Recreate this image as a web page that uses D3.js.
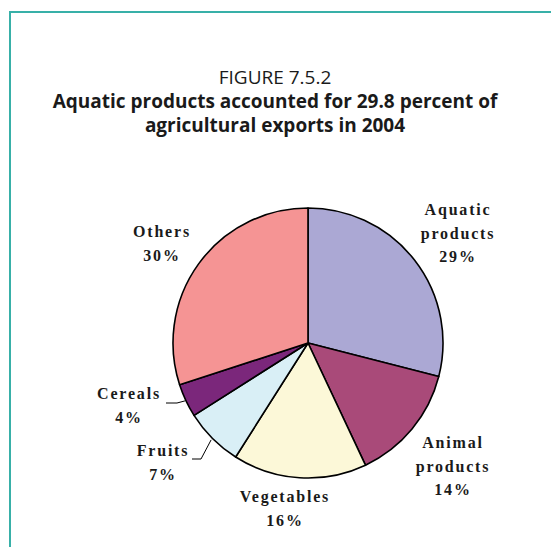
<!DOCTYPE html>
<html>
<head>
<meta charset="utf-8">
<script src="https://cdn.jsdelivr.net/npm/d3@7"></script>
<style>
  html, body { margin: 0; padding: 0; background: #fff; }
  svg { display: block; }
</style>
</head>
<body>
<svg id="chart" width="551" height="547"></svg>
<script>
// Shares of agricultural exports, 2004 (percent), clockwise from 12 o'clock
const categories = ["Aquatic products", "Animal products", "Vegetables", "Fruits", "Cereals", "Others"];
const shares = [29, 14, 16, 7, 4, 30];
const sliceColors = ["#aba8d4", "#a94a79", "#fcf8d8", "#d9eff6", "#7b277b", "#f59494"];
// Label lines per slice (the percentage is appended as the last line)
const labelLines = [["Aquatic", "products"], ["Animal", "products"], ["Vegetables"], ["Fruits"], ["Cereals"], ["Others"]];

const titleLines = ["FIGURE 7.5.2", "Aquatic products accounted for 29.8 percent of", "agricultural exports in 2004"];

const svg = d3.select("#chart");

// Frame: teal rule along the top and left edge
svg.append("path")
  .attr("d", "M10,547 V12 H551")
  .attr("fill", "none")
  .attr("stroke", "#38b0a8")
  .attr("stroke-width", 2);

// Title block
const title = svg.append("g").attr("text-anchor", "middle")
  .attr("font-family", "'Open Sans', 'Noto Sans', sans-serif")
  .attr("fill", "#1a1a1a");
title.append("text").attr("x", 275).attr("y", 84)
  .attr("font-size", 19).text(titleLines[0]);
title.append("text").attr("x", 275).attr("y", 108)
  .attr("font-size", 19).attr("font-weight", 700).text(titleLines[1]);
title.append("text").attr("x", 275).attr("y", 132)
  .attr("font-size", 19).attr("font-weight", 700).text(titleLines[2]);

// Pie
const cx = 308, cy = 343, radius = 135;
const pie = d3.pie().sort(null).value(d => d);
const arcs = pie(shares);
const arc = d3.arc().innerRadius(0).outerRadius(radius);

const g = svg.append("g").attr("transform", `translate(${cx},${cy})`);
g.selectAll("path.slice")
  .data(arcs)
  .join("path")
  .attr("class", "slice")
  .attr("d", arc)
  .attr("fill", (d, i) => sliceColors[i])
  .attr("stroke", "#000")
  .attr("stroke-width", 1.6)
  .attr("stroke-linejoin", "round");

// Label anchors (center x, first baseline), relative to the pie centre
const labelPos = [
  [150, -128],
  [145, 105],
  [-23, 159],
  [-145, 113],
  [-179, 56],
  [-146, -106]
];
const lineGap = 23.5;

const labels = svg.append("g")
  .attr("font-family", "'Liberation Serif', 'Times New Roman', serif")
  .attr("font-weight", 700)
  .attr("font-size", 16)
  .attr("letter-spacing", 1.8)
  .attr("fill", "#1a1a1a")
  .attr("text-anchor", "middle");

arcs.forEach((d, i) => {
  const [lx, ly] = labelPos[i];
  const lines = labelLines[i].concat([d3.format("d")(shares[i]) + "%"]);
  const t = labels.append("text");
  lines.forEach((s, k) => {
    t.append("tspan")
      .attr("x", cx + lx)
      .attr("y", cy + ly + k * lineGap)
      .text(s);
  });
});

// Leader lines for the two narrow slices
const leader = d3.line();
function edgePoint(d, r) {
  const a = (d.startAngle + d.endAngle) / 2;
  return [cx + Math.sin(a) * r, cy - Math.cos(a) * r];
}
const cerealEnd = edgePoint(arcs[4], radius + 1);
const fruitEnd = edgePoint(arcs[3], radius + 2);
svg.append("path")
  .attr("d", leader([[166, 403], [177, 403], cerealEnd]))
  .attr("fill", "none").attr("stroke", "#000").attr("stroke-width", 1);
svg.append("path")
  .attr("d", leader([[192, 459], [201, 459], fruitEnd]))
  .attr("fill", "none").attr("stroke", "#000").attr("stroke-width", 1);
</script>
</body>
</html>
